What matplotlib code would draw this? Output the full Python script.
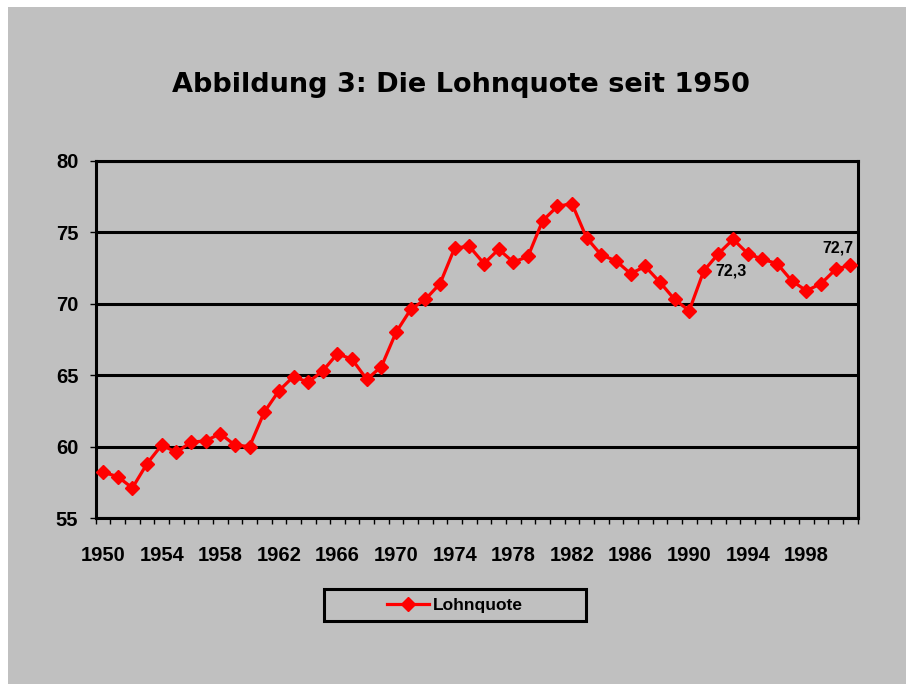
import numpy as np
import matplotlib.pyplot as plt
from matplotlib.patches import Rectangle
from matplotlib.lines import Line2D

years = list(range(1950, 2002))
lohnquote = [58.2, 57.9, 57.1, 58.8, 60.1, 59.6, 60.3, 60.4, 60.9, 60.1,
             60.0, 62.4, 63.9, 64.9, 64.5, 65.3, 66.5, 66.1, 64.7, 65.6,
             68.0, 69.6, 70.3, 71.4, 73.9, 74.0, 72.8, 73.8, 72.9, 73.3,
             75.8, 76.8, 77.0, 74.6, 73.4, 73.0, 72.1, 72.6, 71.5, 70.3,
             69.5, 72.3, 73.5, 74.5, 73.5, 73.1, 72.8, 71.6, 70.9, 71.4,
             72.4, 72.7]
tick_years = list(range(1950, 2002, 4))
title = "Abbildung 3: Die Lohnquote seit 1950"

gray = '#c0c0c0'
W, H = 906, 684
fig = plt.figure(figsize=(9.06, 6.84), dpi=100, facecolor='white')
# gray chart area with a white margin top/left
fig.patches.append(Rectangle((8 / W, 0), 1 - 8 / W, 1 - 7 / H, transform=fig.transFigure,
                             facecolor=gray, edgecolor='none', zorder=-5))

ax = fig.add_axes([95.7 / W, 1 - 518 / H, (857.7 - 95.7) / W, (518 - 160.7) / H])
ax.set_facecolor(gray)

ax.plot(years, lohnquote, color='#ff0000', lw=2.3, marker='D', ms=7.5,
        markeredgecolor='#ff0000', zorder=3, clip_on=False)

ax.set_xlim(1949.5, 2001.5)
ax.set_ylim(55, 80)
ax.set_yticks(range(55, 81, 5))
ax.yaxis.grid(True, color='black', lw=2.2)
ax.set_axisbelow(True)

ax.set_xticks(tick_years)
ax.set_xticks(np.arange(1949.5, 2002, 1), minor=True)
ax.tick_params(axis='x', which='major', length=0, pad=20)
ax.tick_params(axis='x', which='minor', length=4.5, width=1, direction='out')
ax.tick_params(axis='y', length=4, width=1, pad=8.5)
for lab in ax.get_xticklabels() + ax.get_yticklabels():
    lab.set_fontfamily('Liberation Sans')
    lab.set_fontweight('bold')
    lab.set_fontsize(14.5)

for s in ax.spines.values():
    s.set_linewidth(2.2)
    s.set_color('black')

lab_font = dict(family='Liberation Sans', weight='bold', size=11.5)
i91 = years.index(1991)
ax.annotate('72,3', (years[i91], lohnquote[i91]), xytext=(8.5, 0),
            textcoords='offset points', ha='left', va='center', **lab_font)
ax.annotate('72,7', (years[-1], lohnquote[-1]), xytext=(-9, 12.5),
            textcoords='offset points', ha='center', va='center', **lab_font)

fig.text(461 / W, 1 - 85 / H, title, ha='center', va='center',
         fontfamily='DejaVu Sans', fontweight='bold', fontsize=19.5)

# legend box
fig.patches.append(Rectangle((324 / W, 1 - 621 / H), (586 - 324) / W, (621 - 589) / H,
                             transform=fig.transFigure, facecolor='none',
                             edgecolor='black', lw=2.2, zorder=2))
handle = Line2D([], [], color='#ff0000', lw=2.3, marker='D', ms=7.5)
fig.legend([handle], ['Lohnquote'], loc='center', bbox_to_anchor=(455 / W, 1 - 605 / H),
           frameon=False, handlelength=2.4, handletextpad=0.2,
           prop=dict(family='Liberation Sans', weight='bold', size=12.5))

fig.savefig('out.png', dpi=100, facecolor='white')
